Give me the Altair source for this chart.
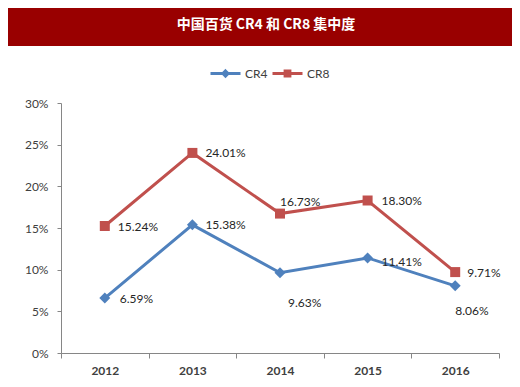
import altair as alt
import pandas as pd

years = ["2012", "2013", "2014", "2015", "2016"]
cr4 = [6.59, 15.38, 9.63, 11.41, 8.06]
cr8 = [15.24, 24.01, 16.73, 18.30, 9.71]
series = ["CR4", "CR8"]
title_text = "中国百货 CR4 和 CR8 集中度"

rows = []
for s, vals in zip(series, [cr4, cr8]):
    for y, v in zip(years, vals):
        rows.append({"year": y, "value": v, "series": s, "label": f"{v:.2f}%"})
df = pd.DataFrame(rows)

W, H = 438, 250
PAD = {"left": 53, "top": 95, "right": 13, "bottom": 26}
BLUE = "#4F81BD"
RED = "#C0504D"
COLORS = {"CR4": BLUE, "CR8": RED}
FONT = "Lato"

x_enc = alt.X("year:O", scale=alt.Scale(type="band", paddingInner=0, paddingOuter=0),
              axis=alt.Axis(title=None, labelAngle=0, tickBand="extent", tickSize=5,
                            labelPadding=7, labelFont=FONT, labelFontSize=12,
                            labelFontWeight="bold", labelColor="#404040",
                            domainColor="#868686", tickColor="#868686", grid=False))
y_enc = alt.Y("value:Q", scale=alt.Scale(domain=[0, 30]),
              axis=alt.Axis(title=None, values=[0, 5, 10, 15, 20, 25, 30],
                            labelExpr="datum.value + '%'", tickSize=4, labelPadding=9,
                            labelFont=FONT, labelFontSize=12, labelColor="#404040",
                            domainColor="#868686", tickColor="#868686", grid=False))

# legend symbols: a line with a small, thickly stroked marker on it
SYMBOL_PATHS = {
    "CR4": "M-1,0L1,0M0,-0.17L0.17,0L0,0.17L-0.17,0Z",
    "CR8": "M-1,0L1,0M-0.16,-0.16L0.16,-0.16L0.16,0.16L-0.16,0.16Z",
}
LEGEND_X = {"CR4": 148, "CR8": 210}

base = alt.Chart(df)

bar = base.mark_rect(color="#990000").encode(
    x=alt.value(-53), x2=alt.value(W + 13), y=alt.value(-95), y2=alt.value(-57)
).transform_filter("datum.year === '2012' && datum.series === 'CR4'")

title = base.mark_text(color="white", font="Noto Sans CJK SC", fontSize=14,
                       fontWeight="bold", align="center", baseline="middle").encode(
    x=alt.value(205), y=alt.value(-78), text=alt.value(title_text)
).transform_filter("datum.year === '2012' && datum.series === 'CR4'")

color_nl = alt.Color("series:N", scale=alt.Scale(domain=series, range=[BLUE, RED]), legend=None)

lines = base.mark_line(strokeWidth=3).encode(x=x_enc, y=y_enc, color=color_nl)

pts4 = base.mark_point(filled=True, opacity=1, strokeWidth=0, shape="diamond", size=120).encode(
    x=x_enc, y=y_enc, color=color_nl
).transform_filter("datum.series === 'CR4'")
pts8 = base.mark_point(filled=True, opacity=1, strokeWidth=0, shape="square", size=100).encode(
    x=x_enc, y=y_enc, color=color_nl
).transform_filter("datum.series === 'CR8'")

legend_layers = []
for s in series:
    c = COLORS[s]
    leg = alt.Legend(title=None, orient="none", legendX=LEGEND_X[s], legendY=-46,
                     direction="horizontal", symbolSize=900, symbolStrokeWidth=3,
                     symbolFillColor=c, symbolStrokeColor=c, symbolOpacity=1,
                     labelFont=FONT, labelFontSize=12, labelColor="#404040",
                     labelOffset=3, padding=0)
    legend_layers.append(
        base.mark_point(filled=False, color=c, strokeWidth=3, opacity=1,
                        strokeJoin="miter").encode(
            x=x_enc, y=y_enc,
            shape=alt.Shape("series:N", scale=alt.Scale(domain=[s], range=[SYMBOL_PATHS[s]]),
                            legend=leg),
        ).transform_filter("false")
    )

# label placement (style): (series, year) -> (dx, dy, align)
placements = {
    ("CR8", "2012"): (13, 1, "left"),
    ("CR8", "2013"): (13, 0, "left"),
    ("CR8", "2014"): (0, -12, "left"),
    ("CR8", "2015"): (14, 0, "left"),
    ("CR8", "2016"): (12, 1, "left"),
    ("CR4", "2012"): (15, 1, "left"),
    ("CR4", "2013"): (13, 0, "left"),
    ("CR4", "2014"): (8, 30, "left"),
    ("CR4", "2015"): (14, 4, "left"),
    ("CR4", "2016"): (0, 25, "left"),
}
label_layers = []
for (s, yr), (dx, dy, al) in placements.items():
    label_layers.append(
        base.mark_text(font=FONT, fontSize=12, color="#262626", align=al,
                       baseline="middle", dx=dx, dy=dy).encode(
            x=x_enc, y=y_enc, text="label:N"
        ).transform_filter(f"datum.series === '{s}' && datum.year === '{yr}'")
    )

chart = alt.layer(bar, title, lines, pts4, pts8, *legend_layers, *label_layers).resolve_scale(
    shape="independent"
).properties(
    width=W, height=H, padding=PAD,
    autosize=alt.AutoSizeParams(type="none"),
).configure_view(stroke=None)

chart.save("out.html", embed_options={"renderer": "svg", "actions": False})
